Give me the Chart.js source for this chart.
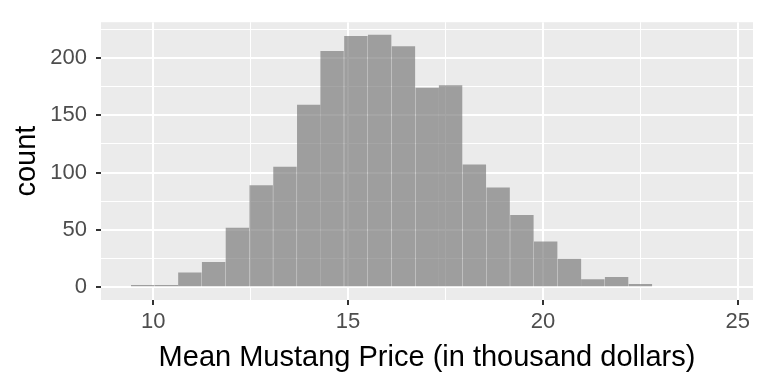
<!DOCTYPE html>
<html lang="en">
<head>
<meta charset="UTF-8">
<title>Mean Mustang Price</title>
<script src="https://cdn.jsdelivr.net/npm/chart.js"></script>
<style>
  html, body { margin: 0; padding: 0; background: #ffffff; }
</style>
</head>
<body>
<canvas id="myChart" width="768" height="384"></canvas>
<script>
// bin centres (thousand dollars) and counts
const binCenters = [9.73, 10.34, 10.94, 11.55, 12.16, 12.77, 13.38, 13.99, 14.59, 15.20,
                    15.81, 16.42, 17.03, 17.63, 18.24, 18.85, 19.46, 20.07, 20.68, 21.28,
                    21.89, 22.50, 23.11, 23.72, 24.32];
const counts = [2, 2, 13, 22, 52, 89, 105, 159, 206, 219,
                220, 210, 174, 176, 107, 87, 63, 40, 25, 7,
                9, 3, 1, 0, 1];
const xMajor = [10, 15, 20, 25];
const yMajor = [0, 50, 100, 150, 200];

const FONT = '"Liberation Sans", Arial, Helvetica, sans-serif';

const isMajorX = v => xMajor.includes(v);
const isMajorY = v => yMajor.includes(v);

// grey panel like ggplot
const panelBg = {
    id: 'panelBg',
    beforeDraw(chart) {
        const a = chart.chartArea;
        const c = chart.ctx;
        c.save();
        c.fillStyle = '#EBEBEB';
        c.fillRect(a.left, a.top, a.right - a.left, a.bottom - a.top);
        c.restore();
    }
};

const ctx = document.getElementById('myChart').getContext('2d');
new Chart(ctx, {
    type: 'bar',
    data: {
        datasets: [{
            data: binCenters.map((x, i) => ({ x: x, y: counts[i] })),
            backgroundColor: 'rgba(117,117,117,0.65)',
            borderWidth: 0,
            inflateAmount: 0,
            barPercentage: 1.0,
            categoryPercentage: 1.0
        }]
    },
    options: {
        responsive: false,
        devicePixelRatio: 1,
        animation: false,
        layout: { padding: { top: 15, right: 15, left: 0, bottom: 0 } },
        plugins: { legend: { display: false }, tooltip: { enabled: false } },
        scales: {
            x: {
                type: 'linear',
                min: 8.66,
                max: 25.39,
                offset: false,
                border: { display: false },
                grid: {
                    offset: false,
                    color: '#FFFFFF',
                    lineWidth: c => (c.tick && isMajorX(c.tick.value)) ? 2 : 1,
                    tickColor: c => (c.tick && isMajorX(c.tick.value)) ? '#333333' : 'rgba(0,0,0,0)',
                    tickLength: 5,
                    tickWidth: 2
                },
                ticks: {
                    stepSize: 2.5,
                    includeBounds: false,
                    maxRotation: 0,
                    autoSkip: false,
                    padding: 4,
                    color: '#4D4D4D',
                    font: { family: FONT, size: 22 },
                    callback: v => isMajorX(v) ? String(v) : ''
                },
                title: {
                    display: true,
                    text: 'Mean Mustang Price (in thousand dollars)',
                    color: '#000000',
                    font: { family: FONT, size: 29 },
                    padding: { top: 0, bottom: 9 }
                },
                afterFit: s => { s.height = 84; }
            },
            y: {
                type: 'linear',
                min: -11,
                max: 231,
                border: { display: false },
                grid: {
                    color: '#FFFFFF',
                    lineWidth: c => (c.tick && isMajorY(c.tick.value)) ? 2 : 1,
                    tickColor: c => (c.tick && isMajorY(c.tick.value)) ? '#333333' : 'rgba(0,0,0,0)',
                    tickLength: 5,
                    tickWidth: 2
                },
                ticks: {
                    stepSize: 25,
                    includeBounds: false,
                    autoSkip: false,
                    padding: 9,
                    color: '#4D4D4D',
                    font: { family: FONT, size: 22 },
                    callback: v => isMajorY(v) ? String(v) : ''
                },
                title: {
                    display: true,
                    text: 'count',
                    color: '#000000',
                    font: { family: FONT, size: 29 },
                    padding: { top: 10, bottom: 0 }
                },
                afterFit: s => { s.width = 101; }
            }
        }
    },
    plugins: [panelBg]
});
</script>
</body>
</html>
